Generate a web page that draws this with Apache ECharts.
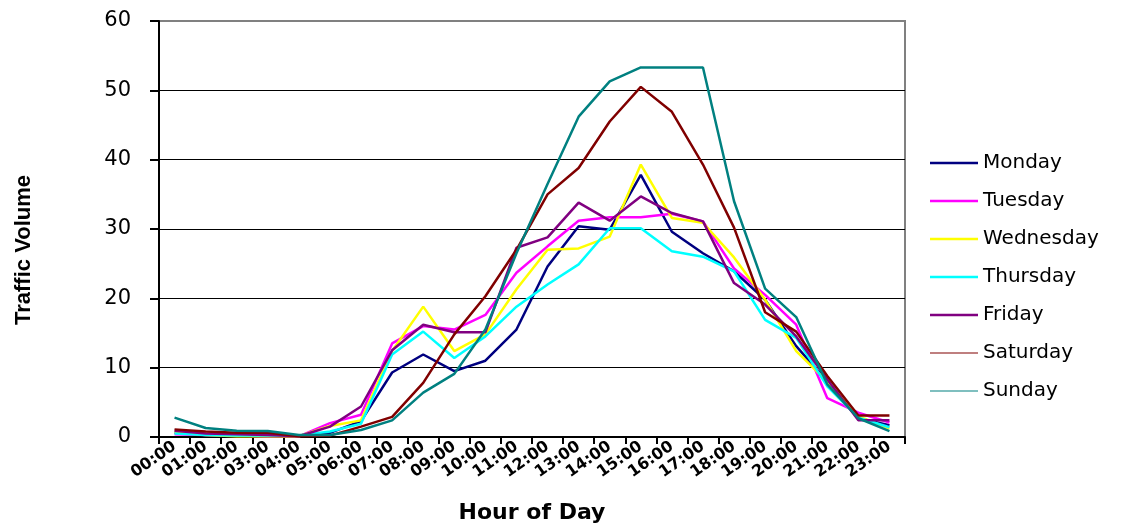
<!DOCTYPE html>
<html>
<head>
<meta charset="utf-8">
<title>Traffic Volume by Hour of Day</title>
<script src="https://cdn.jsdelivr.net/npm/echarts@6/dist/echarts.min.js"></script>
<style>
  html, body { margin: 0; padding: 0; background: #ffffff; }
  #chart { width: 1137px; height: 524px; }
</style>
</head>
<body>
<div id="chart"></div>
<script>
// Hour-of-day categories
const hours = ['00:00','01:00','02:00','03:00','04:00','05:00','06:00','07:00',
  '08:00','09:00','10:00','11:00','12:00','13:00','14:00','15:00',
  '16:00','17:00','18:00','19:00','20:00','21:00','22:00','23:00'];

// Hourly traffic volume per weekday
const monday    = [0.6,0.3,0.2,0.1,0.2,0.6,2.3,9.3,11.9,9.5,11.0,15.5,24.6,30.4,29.9,37.8,29.6,26.5,23.9,19.8,13.1,8.0,2.7,1.7];
const tuesday   = [0.4,0.3,0.2,0.1,0.1,2.0,3.2,13.5,16.0,15.5,17.6,23.7,27.5,31.2,31.7,31.7,32.2,31.1,24.3,20.5,16.2,5.6,3.5,2.1];
const wednesday = [0.7,0.3,0.1,0.1,0.1,1.6,2.4,12.4,18.8,12.4,14.8,21.3,27.0,27.2,28.9,39.3,31.6,30.9,25.9,19.8,12.4,8.0,3.0,1.2];
const thursday  = [0.5,0.3,0.2,0.2,0.2,0.8,1.9,11.9,15.2,11.4,14.5,18.8,22.0,24.9,30.1,30.1,26.8,26.0,23.9,16.9,14.3,7.3,2.8,1.4];
const friday    = [0.9,0.5,0.4,0.3,0.1,1.5,4.4,12.5,16.2,15.1,15.1,27.3,28.8,33.8,31.2,34.7,32.3,31.1,22.2,19.1,14.5,8.3,2.4,2.4];
const saturday  = [1.1,0.8,0.6,0.6,0.1,0.2,1.5,2.9,7.8,14.8,20.3,27.0,35.0,38.8,45.5,50.5,46.9,39.3,30.2,18.0,15.2,8.8,3.1,3.1];
const sunday    = [2.8,1.3,0.9,0.85,0.3,0.3,1.0,2.4,6.4,9.1,15.5,26.5,36.5,46.2,51.3,53.3,53.3,53.3,34.0,21.4,17.3,7.6,2.7,0.85];

const dayNames = ['Monday','Tuesday','Wednesday','Thursday','Friday','Saturday','Sunday'];
const dayValues = [monday, tuesday, wednesday, thursday, friday, saturday, sunday];
const dayColors = ['#000080','#FF00FF','#FFFF00','#00FFFF','#800080','#800000','#008080'];
// Legend keys: thick bars for weekdays, hairlines for the weekend
const legendIcons = [
  'path://M0,0H48V2.5H0Z', 'path://M0,0H48V2.5H0Z', 'path://M0,0H48V2.5H0Z',
  'path://M0,0H48V2.5H0Z', 'path://M0,0H48V2.5H0Z',
  'path://M0,0H48V1.2H0Z', 'path://M0,0H48V1.2H0Z'
];

const chart = echarts.init(document.getElementById('chart'), null, { renderer: 'canvas' });

const series = dayNames.map((name, i) => ({
  name: name,
  type: 'line',
  data: dayValues[i],
  symbol: 'none',
  showSymbol: false,
  smooth: false,
  lineStyle: { color: dayColors[i], width: 2.5 },
  itemStyle: { color: dayColors[i] },
  emphasis: { disabled: true },
  animation: false
}));

chart.setOption({
  backgroundColor: '#ffffff',
  animation: false,
  grid: {
    left: 159, right: 232, top: 21, bottom: 87,
    containLabel: false,
    outerBoundsMode: 'none',
    show: true,
    borderColor: '#808080',
    borderWidth: 2,
    backgroundColor: 'transparent'
  },
  legend: {
    orient: 'vertical',
    left: 925,
    top: 148,
    itemWidth: 48,
    itemHeight: 20,
    itemGap: 18,
    textStyle: { fontFamily: 'DejaVu Sans', fontSize: 20, color: '#000000', lineHeight: 20 },
    data: dayNames.map((name, i) => ({
      name: name,
      icon: legendIcons[i],
      itemStyle: { color: dayColors[i], borderWidth: 0 }
    })),
    selectedMode: false
  },
  xAxis: {
    type: 'category',
    data: hours,
    boundaryGap: true,
    name: 'Hour of Day',
    nameLocation: 'middle',
    nameGap: 65,
    nameTextStyle: { fontFamily: 'DejaVu Sans', fontWeight: 'bold', fontSize: 22, color: '#000000' },
    axisLine: { show: true, lineStyle: { color: '#000000', width: 2 } },
    axisTick: { show: true, interval: 0, length: 7, lineStyle: { color: '#000000', width: 2 } },
    axisLabel: {
      interval: 0,
      rotate: 35,
      margin: 8,
      fontFamily: 'DejaVu Sans',
      fontWeight: 'bold',
      fontSize: 16,
      color: '#000000'
    },
    splitLine: { show: false }
  },
  yAxis: {
    type: 'value',
    min: 0,
    max: 60,
    interval: 10,
    name: 'Traffic Volume',
    nameLocation: 'middle',
    nameGap: 124,
    nameRotate: 90,
    nameTextStyle: {
      fontFamily: 'Liberation Sans',
      fontWeight: 'bold', fontSize: 22, color: '#000000', padding: [0, 42, 0, 0]
    },
    axisLine: { show: true, lineStyle: { color: '#000000', width: 2 } },
    axisTick: { show: true, length: 9, lineStyle: { color: '#000000', width: 2 } },
    axisLabel: { margin: 28, fontFamily: 'DejaVu Sans', fontSize: 21, color: '#000000' },
    splitLine: { show: true, showMinLine: false, showMaxLine: false, lineStyle: { color: '#000000', width: 1 } }
  },
  series: series
});
</script>
</body>
</html>
